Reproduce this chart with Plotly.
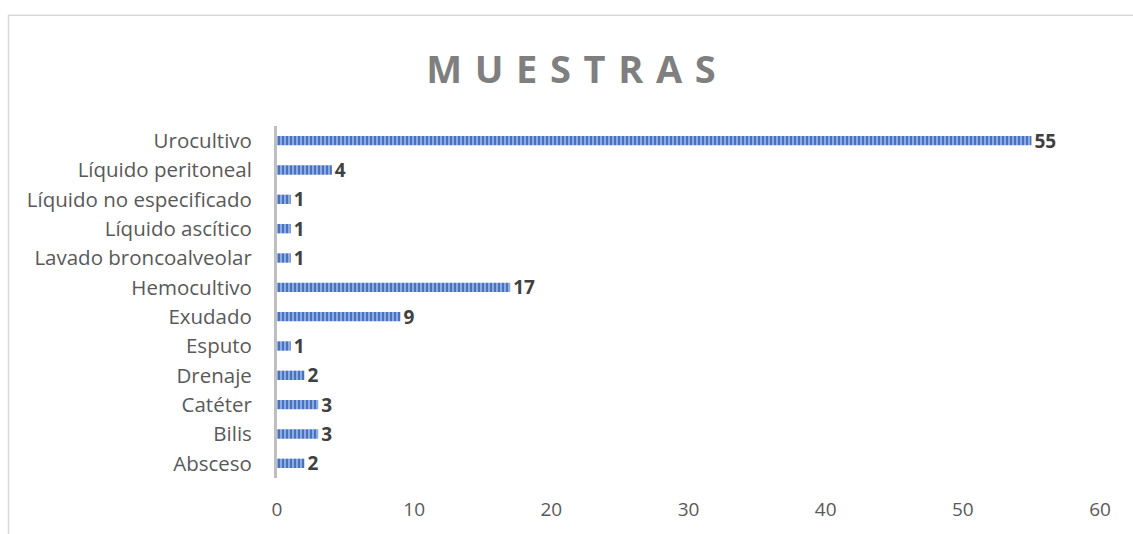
import plotly.graph_objects as go

categories = ["Absceso", "Bilis", "Catéter", "Drenaje", "Esputo", "Exudado",
              "Hemocultivo", "Lavado broncoalveolar", "Líquido ascítico",
              "Líquido no especificado", "Líquido peritoneal", "Urocultivo"]
values = [2, 3, 3, 2, 1, 9, 17, 1, 1, 1, 4, 55]
x_ticks = [0, 10, 20, 30, 40, 50, 60]

W, H = 1133, 534
L, R, T, B = 277, 33, 126, 54
pw, ph = W - L - R, H - T - B

fig = go.Figure(go.Bar(
    y=categories, x=values, orientation="h",
    marker=dict(color="#8FAADC", line=dict(width=0),
                pattern=dict(shape="|", size=4, solidity=0.5,
                             fgcolor="#4472C4", bgcolor="#8FAADC", fillmode="replace")),
    text=[str(v) for v in values], textposition="outside", cliponaxis=False,
    constraintext="none",
    textfont=dict(family="Open Sans", size=19, color="#404040", weight="bold"),
    hoverinfo="skip",
))

def px2x(p):
    return (p - L) / pw

def py2y(p):
    return (H - B - p) / ph

sp = "\u2004"
fig.update_layout(
    width=W, height=H,
    margin=dict(l=L, r=R, t=T, b=B),
    paper_bgcolor="white", plot_bgcolor="white",
    bargap=0.68, showlegend=False,
    title=dict(text=sp.join("MUESTRAS"),
               x=571 / W, xanchor="center", y=1 - 70 / H, yanchor="middle",
               yref="container", xref="container",
               font=dict(family="Open Sans", size=38, color="#7F7F7F", weight="bold")),
    xaxis=dict(range=[0, 60], tickvals=x_ticks, showgrid=False, zeroline=False,
               showline=False, ticks="", ticklabelstandoff=18,
               tickfont=dict(family="Open Sans", size=19, color="#595959")),
    yaxis=dict(categoryorder="array", categoryarray=categories, showgrid=False,
               zeroline=False, showline=True, linecolor="#BFBFBF", linewidth=3,
               ticks="", ticklabelstandoff=18,
               tickfont=dict(family="Open Sans", size=20.5, color="#595959")),
    shapes=[dict(type="rect", xref="paper", yref="paper",
                 x0=px2x(8.5), x1=px2x(1145), y0=py2y(545), y1=py2y(14.5),
                 line=dict(color="#D9D9D9", width=1.5), layer="below")],
)

fig.write_html("out.html")
